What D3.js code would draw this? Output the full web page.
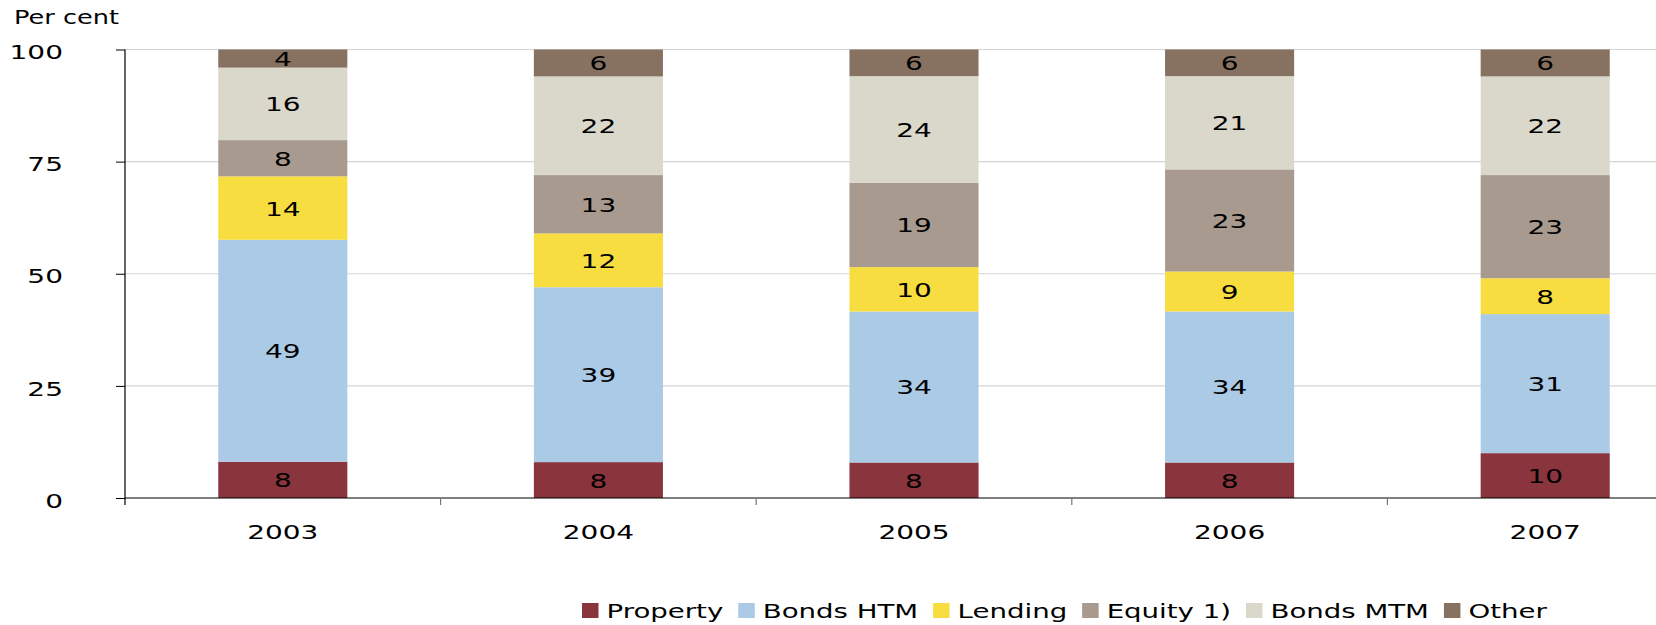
<!DOCTYPE html>
<html>
<head>
<meta charset="utf-8">
<script src="https://cdn.jsdelivr.net/npm/d3@7"></script>
<style>
  html, body { margin: 0; padding: 0; background: #fff; }
  svg { display: block; }
  text { font-family: "DejaVu Sans", Verdana, sans-serif; fill: #000; }
</style>
</head>
<body>
<svg id="chart" width="1656" height="625"></svg>
<script>
const years = ["2003", "2004", "2005", "2006", "2007"];
const seriesNames = ["Property", "Bonds HTM", "Lending", "Equity 1)", "Bonds MTM", "Other"];
const property = [8, 8, 8, 8, 10];
const bondsHTM = [49, 39, 34, 34, 31];
const lending  = [14, 12, 10, 9, 8];
const equity   = [8, 13, 19, 23, 23];
const bondsMTM = [16, 22, 24, 21, 22];
const other    = [4, 6, 6, 6, 6];
const yTicks = [0, 25, 50, 75, 100];
const colors = ["#8a343e", "#abcae6", "#f8dd40", "#a89a8e", "#dad8cb", "#877262"];

(function () {
const seriesValues = [property, bondsHTM, lending, equity, bondsMTM, other];
const table = years.map((yr, i) => {
  const row = { year: yr };
  seriesNames.forEach((s, j) => { row[s] = seriesValues[j][i]; });
  return row;
});

const SX = 1.4; // horizontal stretch of the chart's lettering
const FS = 20;

const svg = d3.select("#chart");
const plotLeft = 125, plotTop = 49.5, plotBottom = 498;
const step = 315.6;

const x = d3.scaleBand().domain(years).range([plotLeft, plotLeft + step * years.length]).padding(0);
const y = d3.scaleLinear().domain([0, 100]).range([plotBottom, plotTop]);
const barW = x.bandwidth() * 0.409;

const stack = d3.stack().keys(seriesNames).offset(d3.stackOffsetExpand);
const stacked = stack(table);

// gridlines
svg.append("g").selectAll("line").data(yTicks.filter(t => t > 0)).join("line")
  .attr("x1", plotLeft).attr("x2", 1656)
  .attr("y1", d => y(d)).attr("y2", d => y(d))
  .attr("stroke", "#d4d4d4").attr("stroke-width", 1.2);

// bars
const layers = svg.append("g").selectAll("g").data(stacked).join("g")
  .attr("fill", (d, i) => colors[i]);
layers.selectAll("rect").data(d => d).join("rect")
  .attr("x", d => x(d.data.year) + (x.bandwidth() - barW) / 2)
  .attr("width", barW)
  .attr("y", d => y(d[1] * 100))
  .attr("height", d => y(d[0] * 100) - y(d[1] * 100));

// segment labels
stacked.forEach((layer) => {
  svg.append("g").selectAll("text").data(layer).join("text")
    .attr("transform", d => `translate(${x(d.data.year) + x.bandwidth() / 2},${(y(d[0] * 100) + y(d[1] * 100)) / 2 + 7.5}) scale(${SX},1)`)
    .attr("text-anchor", "middle")
    .attr("font-size", FS)
    .text(d => d.data[layer.key]);
});

// y axis
const yAxis = d3.axisLeft(y).tickValues(yTicks).tickSize(9).tickFormat("");
const gy = svg.append("g").attr("transform", `translate(${plotLeft},0)`).call(yAxis);
gy.select(".domain").remove();
gy.selectAll(".tick line").attr("stroke", "#000");
svg.append("line").attr("x1", plotLeft).attr("x2", plotLeft).attr("y1", plotTop).attr("y2", plotBottom + 7)
  .attr("stroke", "#000").attr("stroke-width", 1.2);
svg.append("g").selectAll("text").data(yTicks).join("text")
  .attr("transform", d => `translate(63,${y(d) + 9.7}) scale(${SX},1)`)
  .attr("text-anchor", "end").attr("font-size", FS)
  .text(d => d);

// x axis
svg.append("line").attr("x1", plotLeft).attr("x2", 1656).attr("y1", plotBottom).attr("y2", plotBottom)
  .attr("stroke", "#000").attr("stroke-width", 1.2);
const bounds = years.slice(1).map(yr => x(yr));
svg.append("g").selectAll("line").data(bounds).join("line")
  .attr("x1", d => d).attr("x2", d => d).attr("y1", plotBottom).attr("y2", plotBottom + 7)
  .attr("stroke", "#777").attr("stroke-width", 1.2);
svg.append("g").selectAll("text").data(years).join("text")
  .attr("transform", d => `translate(${x(d) + x.bandwidth() / 2},538.5) scale(${SX},1)`)
  .attr("text-anchor", "middle").attr("font-size", FS)
  .text(d => d);

// unit label
svg.append("text").attr("transform", `translate(14,24) scale(1.28,1)`)
  .attr("font-size", FS).text("Per cent");

// legend
const LSX = 1.38;
const lg = svg.append("g");
let lx = 582;
seriesNames.forEach((s, i) => {
  lg.append("rect").attr("x", lx).attr("y", 603).attr("width", 16.5).attr("height", 15).attr("fill", colors[i]);
  const t = lg.append("text").attr("transform", `translate(${lx + 24.5},618) scale(${LSX},1)`)
    .attr("font-size", FS).text(s);
  const w = t.node().getComputedTextLength() * LSX;
  lx += 24.5 + w + 15;
});
})();
</script>
</body>
</html>
